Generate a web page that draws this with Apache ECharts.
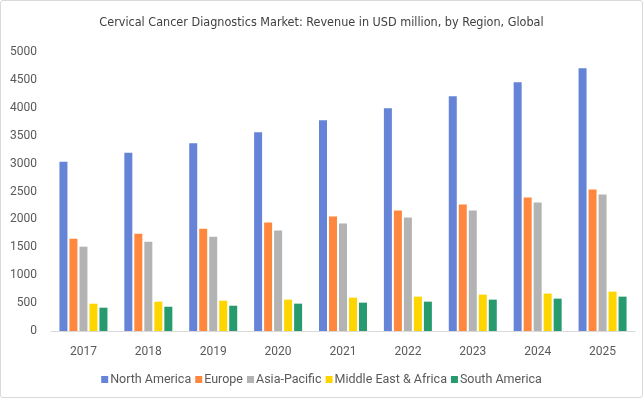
<!DOCTYPE html>
<html><head><meta charset="utf-8">
<script src="https://cdn.jsdelivr.net/npm/echarts@6/dist/echarts.min.js"></script>
<style>
html,body{margin:0;padding:0;background:#fff;}
#frame{position:absolute;left:0;top:0;width:641px;height:396px;border:1px solid #d9d9d9;border-radius:3px;}
#chart{position:absolute;left:0;top:0;width:643px;height:398px;}
</style></head>
<body>
<div id="frame"></div>
<div id="chart"></div>
<script>
const categories = ['2017','2018','2019','2020','2021','2022','2023','2024','2025'];
const northAmerica = [3034, 3195, 3364, 3562, 3777, 3993, 4208, 4459, 4711];
const europe       = [1654, 1744, 1833, 1945, 2053, 2161, 2268, 2394, 2538];
const asiaPacific  = [1511, 1600, 1690, 1801, 1927, 2035, 2161, 2304, 2448];
const middleEastAfrica = [489, 525, 543, 562, 598, 616, 652, 670, 706];
const southAmerica = [418, 435, 453, 490, 508, 526, 562, 580, 616];
const seriesNames = ['North America','Europe','Asia-Pacific','Middle East & Africa','South America'];
const colors = ['#6584d8','#ff883e','#b3b3b3','#ffd500','#279b6e'];
const allData = [northAmerica, europe, asiaPacific, middleEastAfrica, southAmerica];

const chart = echarts.init(document.getElementById('chart'), null, {renderer:'canvas'});
chart.setOption({
  animation:false,
  color: colors,
  title:{
    text:'Cervical Cancer Diagnostics Market: Revenue in USD million, by Region, Global',
    left:'center', top:11,
    textStyle:{fontFamily:'DejaVu Sans Condensed', fontSize:12.5, fontWeight:'normal', color:'#404040'}
  },
  legend:{
    bottom:7, left:'center',
    itemWidth:7, itemHeight:7, itemGap:4,
    icon:'rect',
    textStyle:{fontFamily:'Roboto', fontSize:12.5, color:'#595959', padding:[0,0,0,-3]},
    data: seriesNames
  },
  grid:{left:51, right:8, top:52, bottom:67, containLabel:false},
  xAxis:{
    type:'category', data:categories,
    axisLine:{lineStyle:{color:'#d9d9d9', width:1}},
    axisTick:{show:false},
    axisLabel:{fontFamily:'Roboto', fontSize:12, color:'#595959', margin:15}
  },
  yAxis:{
    type:'value', min:0, max:5000, interval:500,
    splitLine:{show:false},
    axisLine:{show:false}, axisTick:{show:false},
    axisLabel:{fontFamily:'Roboto', fontSize:12, color:'#595959', margin:14,
      formatter:(v)=>String(v)}
  },
  series: seriesNames.map((n,i)=>({
    name:n, type:'bar', data:allData[i], barWidth:8, barGap:'25%'
  }))
});
</script>
</body></html>
